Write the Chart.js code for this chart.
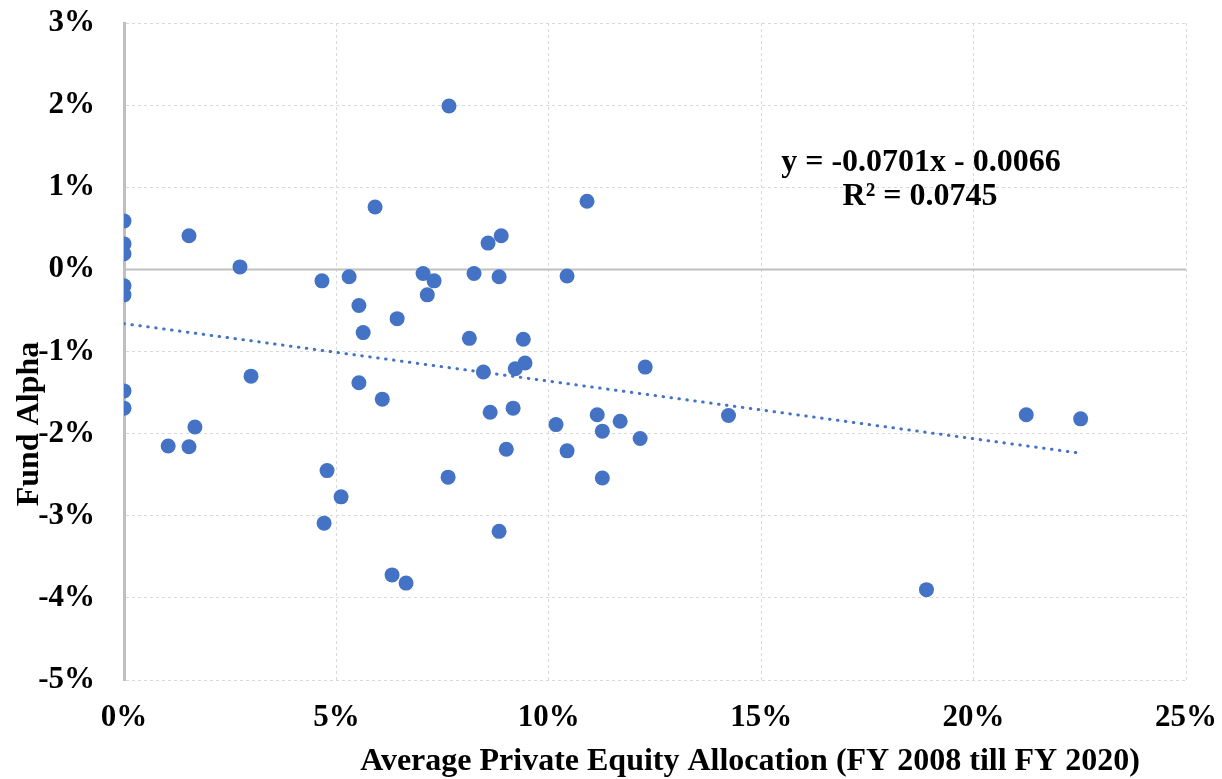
<!DOCTYPE html>
<html>
<head>
<meta charset="utf-8">
<script src="https://cdn.jsdelivr.net/npm/chart.js@4"></script>
<style>
  body { margin: 0; background: #fff; }
  #wrap { width: 1222px; height: 779px; }
</style>
</head>
<body>
<div id="wrap"><canvas id="grafico" width="1222" height="779"></canvas></div>
<script>
// average private equity allocation, % (x)
let allocation = [0, 0, 0, 0, 0, 0, 0,
    1.04, 1.53, 1.67, 1.53, 2.73, 2.99,
    4.66, 4.78, 4.71, 5.11, 5.30, 5.53, 5.53, 5.63, 5.91, 6.08, 6.43, 6.31, 6.64,
    7.04, 7.14, 7.30, 7.63, 7.65, 8.13, 8.24, 8.46, 8.57, 8.62, 8.83, 8.88, 8.83,
    9.00, 9.16, 9.21, 9.40, 9.44,
    10.17, 10.43, 10.43, 10.90, 11.14, 11.26, 11.26, 11.68, 12.15, 12.27,
    14.23, 18.89, 21.24, 22.52];
// fund alpha, % (y)
let alpha = [0.59, 0.31, 0.19, -0.20, -0.31, -1.48, -1.69,
    -2.15, -2.16, -1.92, 0.41, 0.03, -1.30,
    -0.14, -2.45, -3.09, -2.77, -0.09, -0.44, -1.38, -0.77, 0.76, -1.58, -0.60, -3.72, -3.82,
    -0.05, -0.31, -0.14, -2.53, 1.99, -0.84, -0.05, -1.25, 0.32, -1.74, -0.09, 0.41, -3.19,
    -2.19, -1.69, -1.21, -0.85, -1.14,
    -1.89, -0.08, -2.21, 0.83, -1.77, -1.97, -2.54, -1.85, -2.06, -1.19,
    -1.78, -3.90, -1.77, -1.82];

// linear trend as printed on the chart: y = -0.0701x - 0.0066
let pendiente = -0.0701;
let intercepto = -0.66; // in % units
let trendX = [0, 22.52];

let xTicks = [0, 5, 10, 15, 20, 25];
let yTicks = [-5, -4, -3, -2, -1, 0, 1, 2, 3];

let puntos = allocation.map((x, i) => ({ x: x, y: alpha[i] }));
let tendencia = trendX.map(x => ({ x: x, y: pendiente * x + intercepto }));

const fuente = 'Liberation Serif, "Times New Roman", serif';
const azul = '#4472C4';

const extras = {
    id: 'extras',
    beforeDatasetsDraw(chart) {
        const { ctx, chartArea, scales } = chart;
        const y0 = scales.y.getPixelForValue(0);
        ctx.save();
        ctx.strokeStyle = '#bfbfbf';
        ctx.lineWidth = 2;
        ctx.beginPath();
        ctx.moveTo(chartArea.left, y0);
        ctx.lineTo(chartArea.right, y0);
        ctx.stroke();
        ctx.restore();
    },
    afterDraw(chart) {
        const { ctx } = chart;
        ctx.save();
        ctx.fillStyle = '#000';
        ctx.textAlign = 'center';
        ctx.textBaseline = 'middle';
        ctx.font = 'bold 32px ' + fuente;
        ctx.fillText('Average Private Equity Allocation (FY 2008 till FY 2020)', 750, 762);
        ctx.save();
        ctx.translate(30, 424);
        ctx.rotate(-Math.PI / 2);
        ctx.fillText('Fund Alpha', 0, 0);
        ctx.restore();
        ctx.fillText('y = -0.0701x - 0.0066', 921, 163);
        ctx.fillText('R\u00B2 = 0.0745', 920, 197);
        ctx.restore();
    }
};

let canvasGrafico = document.getElementById('grafico');
let chartGrafico = new Chart(canvasGrafico, {
    type: 'scatter',
    data: {
        datasets: [
            {
                label: 'Fund Alpha',
                data: puntos,
                backgroundColor: azul,
                borderColor: azul,
                borderWidth: 0,
                pointRadius: 7.5,
                order: 0
            },
            {
                type: 'line',
                label: 'Linear trend',
                data: tendencia,
                borderColor: azul,
                borderWidth: 3,
                borderDash: [0.5, 7.5],
                borderCapStyle: 'round',
                pointRadius: 0,
                fill: false,
                order: 1
            }
        ]
    },
    options: {
        responsive: false,
        animation: false,
        layout: { padding: { top: 23, right: 36, left: 0, bottom: 0 } },
        plugins: {
            legend: { display: false },
            tooltip: { enabled: false }
        },
        scales: {
            x: {
                type: 'linear',
                min: 0,
                max: 25,
                afterBuildTicks: s => { s.ticks = xTicks.map(v => ({ value: v })); },
                afterFit: s => { s.height = 99; s.paddingLeft = 0; s.paddingRight = 0; },
                grid: { color: '#d9d9d9', lineWidth: 1, drawTicks: false },
                border: { display: false, dash: [3, 3] },
                ticks: {
                    padding: 19,
                    color: '#000',
                    font: { family: fuente, size: 31, weight: 'bold' },
                    callback: v => v + '%'
                }
            },
            y: {
                type: 'linear',
                min: -5,
                max: 3,
                afterBuildTicks: s => { s.ticks = yTicks.map(v => ({ value: v })); },
                afterFit: s => { s.width = 124; s.paddingTop = 0; s.paddingBottom = 0; },
                grid: { color: '#d9d9d9', lineWidth: 1, drawTicks: false },
                border: { display: true, color: '#bfbfbf', width: 3, dash: [3, 3] },
                ticks: {
                    padding: 29,
                    color: '#000',
                    font: { family: fuente, size: 31, weight: 'bold' },
                    callback: v => v + '%'
                }
            }
        }
    },
    plugins: [extras]
});
</script>
</body>
</html>
